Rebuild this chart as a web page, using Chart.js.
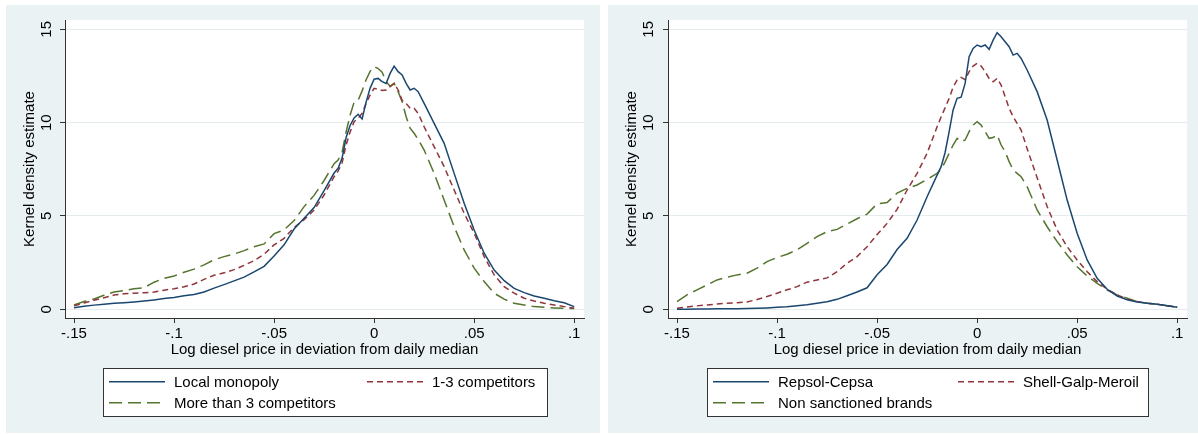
<!DOCTYPE html>
<html>
<head>
<meta charset="utf-8">
<script src="https://cdn.jsdelivr.net/npm/chart.js@4"></script>
<style>
body { margin: 0; background: #fff; width: 1198px; height: 434px; position: relative; overflow: hidden; }
.panel { position: absolute; top: 5px; height: 428px; background: #eaf2f3; }
#p1 { left: 6px; width: 594px; }
#p2 { left: 608px; width: 590px; }
canvas { display: block; }
</style>
</head>
<body>
<div class="panel" id="p1"><canvas id="left" width="594" height="428"></canvas></div>
<div class="panel" id="p2"><canvas id="right" width="590" height="428"></canvas></div>
<script>
// x grid shared by every curve (log price deviation)
const xValues = [-0.15, -0.145, -0.14, -0.135, -0.13, -0.125, -0.12, -0.115, -0.11, -0.105, -0.1, -0.095, -0.09, -0.085,
    -0.08, -0.075, -0.07, -0.065, -0.06, -0.055, -0.05, -0.045, -0.04, -0.035, -0.03, -0.025, -0.02,
    -0.018, -0.016, -0.014, -0.012, -0.01, -0.008, -0.006, -0.004, -0.002, 0, 0.002, 0.004, 0.006, 0.008,
    0.01, 0.012, 0.014, 0.016, 0.018, 0.02, 0.022,
    0.025, 0.03, 0.035, 0.04, 0.045, 0.05, 0.055, 0.06, 0.065, 0.07, 0.075, 0.08, 0.085, 0.09, 0.095, 0.1];

// left panel
const leftLabels = ['Local monopoly', '1-3 competitors', 'More than 3 competitors'];
const monopoly = [0.08, 0.16, 0.22, 0.27, 0.32, 0.35, 0.39, 0.44, 0.5, 0.57, 0.63, 0.72, 0.79, 0.92,
    1.13, 1.32, 1.52, 1.72, 2.0, 2.3, 2.85, 3.45, 4.3, 4.87, 5.45, 6.35, 7.3,
    7.55, 8.1, 9.2, 9.85, 10.25, 10.45, 10.2, 11.1, 11.85, 12.33, 12.37, 12.2, 12.1, 12.64,
    13.03, 12.73, 12.55, 12.1, 11.75, 11.84, 11.66,
    11.03, 9.96, 8.89, 7.28, 5.68, 4.25, 3.0, 2.1, 1.53, 1.12, 0.89, 0.71, 0.59, 0.46, 0.35, 0.14];
const comp13 = [0.18, 0.33, 0.48, 0.62, 0.76, 0.83, 0.86, 0.88, 0.92, 1.02, 1.1, 1.2, 1.35, 1.6,
    1.82, 1.95, 2.12, 2.35, 2.6, 2.95, 3.45, 3.8, 4.38, 4.8, 5.32, 6.12, 7.1,
    7.4, 7.85, 8.8, 9.5, 10.05, 10.23, 10.5, 11.03, 11.48, 11.84, 11.79, 11.72, 11.75, 11.93,
    12.1, 11.75, 11.2, 11.03, 10.77, 10.77, 10.5,
    9.78, 8.71, 7.64, 6.39, 5.14, 4.07, 2.82, 1.84, 1.21, 0.86, 0.59, 0.44, 0.32, 0.23, 0.14, 0.05];
const compMore3 = [0.23, 0.41, 0.55, 0.75, 0.92, 1.0, 1.1, 1.15, 1.45, 1.65, 1.78, 1.98, 2.15, 2.38,
    2.65, 2.82, 2.96, 3.14, 3.35, 3.5, 4.05, 4.25, 4.75, 5.5, 6.1, 6.9, 7.8,
    8.0, 8.4, 9.5, 10.4, 11.1, 11.2, 11.7, 12.3, 12.75, 13.0, 12.9, 12.7, 12.2, 11.95,
    12.1, 11.66, 11.12, 10.32, 9.7, 9.43, 9.1,
    8.53, 7.28, 5.85, 4.42, 3.18, 2.2, 1.48, 0.86, 0.54, 0.32, 0.23, 0.14, 0.1, 0.07, 0.05, 0.04];

// right panel
const rightLabels = ['Repsol-Cepsa', 'Shell-Galp-Meroil', 'Non sanctioned brands'];
const repsol = [0.0, 0.0, 0.01, 0.01, 0.02, 0.02, 0.03, 0.04, 0.05, 0.07, 0.1, 0.13, 0.18, 0.24,
    0.32, 0.4, 0.53, 0.72, 0.92, 1.15, 1.85, 2.4, 3.2, 3.8, 4.78, 6.03, 7.19,
    7.64, 8.4, 9.5, 10.68, 11.3, 11.36, 12.1, 13.53, 13.98, 14.16, 14.07, 14.16, 13.93, 14.42,
    14.82, 14.6, 14.33, 14.07, 13.62, 13.71, 13.44,
    12.82, 11.66, 10.14, 8.0, 5.85, 4.07, 2.64, 1.66, 1.07, 0.71, 0.5, 0.39, 0.32, 0.27, 0.19, 0.11];
const shell = [0.05, 0.12, 0.18, 0.23, 0.28, 0.32, 0.35, 0.39, 0.52, 0.68, 0.86, 1.04, 1.21, 1.45,
    1.57, 1.68, 2.01, 2.46, 2.82, 3.35, 4.0, 4.6, 5.35, 6.39, 7.28, 8.36, 9.78,
    10.3, 10.8, 11.3, 11.9, 12.28, 12.43, 12.3, 12.73, 13.03, 13.18, 13.03, 12.73, 12.37, 12.19,
    12.37, 12.01, 11.39, 10.77, 10.32, 9.96, 9.6,
    8.6, 7.05, 5.5, 4.25, 3.35, 2.64, 2.01, 1.48, 1.07, 0.77, 0.54, 0.41, 0.32, 0.27, 0.19, 0.11];
const nonSanctioned = [0.41, 0.77, 1.04, 1.3, 1.57, 1.71, 1.84, 1.93, 2.2, 2.55, 2.77, 2.95, 3.18, 3.53,
    3.89, 4.16, 4.28, 4.57, 4.85, 5.1, 5.65, 5.72, 6.22, 6.48, 6.66, 6.96, 7.28,
    7.5, 7.9, 8.35, 8.8, 9.16, 8.98, 9.07, 9.52, 9.87, 10.05, 9.87, 9.52, 9.16, 9.2,
    9.34, 8.8, 8.44, 7.91, 7.46, 7.28, 7.1,
    6.57, 5.32, 4.42, 3.62, 2.91, 2.28, 1.78, 1.39, 1.03, 0.77, 0.59, 0.41, 0.32, 0.27, 0.19, 0.11];

const xTicks = [-0.15, -0.1, -0.05, 0, 0.05, 0.1];
const xTickLabels = ['-.15', '-.1', '-.05', '0', '.05', '.1'];
const yTicks = [0, 5, 10, 15];
const yTickLabels = ['0', '5', '10', '15'];

const colors = ['#1a476f', '#90353b', '#55752f'];
const dashes = [[], [6, 4], [13, 6]];
const FONT = '"Liberation Sans", Arial, sans-serif';
const font = { family: FONT, size: 15 };

// white plot region, rotated y tick labels and the boxed legend (Stata look)
const stataPlugin = {
    id: 'stata',
    beforeDraw(chart) {
        const { ctx, chartArea: a } = chart;
        ctx.save();
        ctx.fillStyle = '#fff';
        ctx.fillRect(a.left, a.top, a.right - a.left, a.bottom - a.top);
        ctx.restore();
    },
    afterDraw(chart, args, opts) {
        const ctx = chart.ctx;
        const ys = chart.scales.y;
        ctx.save();
        ctx.font = '15px ' + FONT;
        ctx.fillStyle = '#000';
        ctx.textAlign = 'center';
        ctx.textBaseline = 'alphabetic';
        yTicks.forEach((v, i) => {
            ctx.save();
            ctx.translate(opts.yLabelX, ys.getPixelForValue(v));
            ctx.rotate(-Math.PI / 2);
            ctx.fillText(yTickLabels[i], 0, 0);
            ctx.restore();
        });

        const lg = opts.legend;
        ctx.fillStyle = '#fff';
        ctx.fillRect(lg.x, lg.y, lg.w, lg.h);
        ctx.strokeStyle = '#333';
        ctx.lineWidth = 1;
        ctx.strokeRect(lg.x + 0.5, lg.y + 0.5, lg.w, lg.h);
        chart.data.datasets.forEach((ds, i) => {
            const [lx, ly] = lg.items[i];
            ctx.beginPath();
            ctx.setLineDash(ds.borderDash);
            ctx.strokeStyle = ds.borderColor;
            ctx.lineWidth = ds.borderWidth;
            ctx.moveTo(lx, ly);
            ctx.lineTo(lx + 56, ly);
            ctx.stroke();
            ctx.setLineDash([]);
            ctx.fillStyle = '#000';
            ctx.textAlign = 'left';
            ctx.fillText(ds.label, lx + 65, ly + 5.5);
        });
        ctx.restore();
    }
};

function makeChart(id, labels, series, padRight, yWidth, legend) {
    return new Chart(document.getElementById(id), {
        type: 'line',
        data: {
            datasets: series.map((s, i) => ({
                label: labels[i],
                data: xValues.map((x, j) => ({ x: x, y: s[j] })),
                borderColor: colors[i],
                borderWidth: 1.5,
                borderDash: dashes[i],
                pointRadius: 0,
                tension: 0,
                fill: false,
            })),
        },
        options: {
            responsive: false,
            animation: false,
            layout: { padding: { left: 0, top: 15, right: padRight, bottom: 70 } },
            plugins: {
                legend: { display: false },
                tooltip: { enabled: false },
                stata: { yLabelX: 45, legend: legend },
            },
            scales: {
                x: {
                    type: 'linear',
                    min: -0.1545,
                    max: 0.1049,
                    afterBuildTicks: (s) => { s.ticks = xTicks.map((v) => ({ value: v })); },
                    afterFit: (s) => { s.height = 45; },
                    ticks: {
                        callback: (v, i) => xTickLabels[i],
                        font: font,
                        color: '#000',
                        padding: 2,
                        maxRotation: 0,
                        autoSkip: false,
                    },
                    grid: { drawOnChartArea: false, drawTicks: true, tickLength: 5, tickColor: '#333' },
                    border: { display: true, color: '#333', width: 1 },
                    title: {
                        display: true,
                        text: 'Log diesel price in deviation from daily median',
                        font: font,
                        color: '#000',
                        padding: { top: 4, bottom: 4 },
                    },
                },
                y: {
                    min: -0.47,
                    max: 15.5,
                    afterBuildTicks: (s) => { s.ticks = yTicks.map((v) => ({ value: v })); },
                    afterFit: (s) => { s.width = yWidth; },
                    ticks: { display: false },
                    grid: { color: '#e4eced', lineWidth: 1, drawTicks: true, tickLength: 5, tickColor: '#333' },
                    border: { display: true, color: '#333', width: 1 },
                    title: {
                        display: true,
                        text: 'Kernel density estimate',
                        font: font,
                        color: '#000',
                        padding: { top: 15, bottom: 0 },
                    },
                },
            },
        },
        plugins: [stataPlugin],
    });
}

makeChart('left', leftLabels, [monopoly, comp13, compMore3], 16, 59, {
    x: 97, y: 363, w: 444, h: 48,
    items: [[103, 376.7], [361, 376.7], [103, 397.7]],
});
makeChart('right', rightLabels, [repsol, shell, nonSanctioned], 11, 60, {
    x: 99, y: 363, w: 441, h: 48,
    items: [[105, 376.7], [350, 376.7], [105, 397.7]],
});
</script>
</body>
</html>
